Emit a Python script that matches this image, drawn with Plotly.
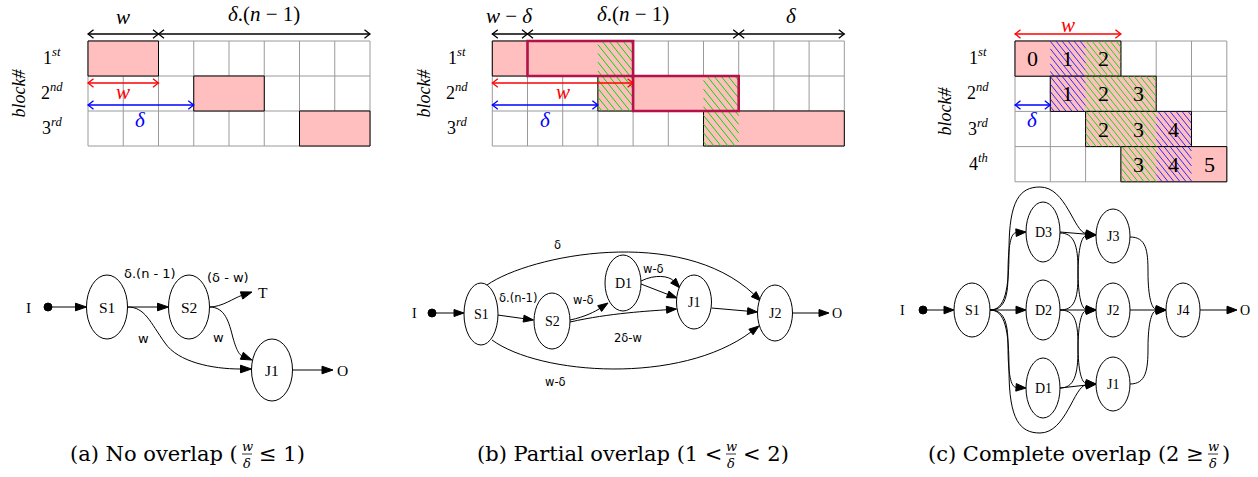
import math
import plotly.graph_objects as go

# ======================= DATA =======================
# ---- timeline grids (block rows, start column, length in cells) ----
a_block_rows, a_block_starts, a_block_lens = [0, 1, 2], [0, 3, 6], [2, 2, 2]
a_top_spans = [(0, 2), (2, 8)]
a_top_labels = ["<i>w</i>", "<i>δ</i>.(<i>n</i> − 1)"]
a_w_span, a_delta_span = (0, 2), (0, 3)

b_block_rows, b_block_starts, b_block_lens = [0, 1, 2], [0, 3, 6], [4, 4, 4]
b_thick_rows, b_thick_starts, b_thick_lens = [0, 1], [1, 4], [3, 3]
b_hatch_cells = [(0, 3), (1, 3), (1, 6), (2, 6)]
b_top_spans = [(0, 1), (1, 7), (7, 10)]
b_top_labels = ["<i>w</i> − <i>δ</i>", "<i>δ</i>.(<i>n</i> − 1)", "<i>δ</i>"]
b_w_span, b_delta_span = (0, 4), (0, 3)

c_block_rows, c_block_starts, c_block_lens = [0, 1, 2, 3], [0, 1, 2, 3], [3, 3, 3, 3]
c_cell_numbers = [["0", "1", "2"], ["1", "2", "3"], ["2", "3", "4"], ["3", "4", "5"]]
c_cell_hatch = [["", "blue", "green"], ["blue", "green", "green"],
                ["green", "green", "blue"], ["green", "blue", ""]]
c_w_span, c_delta_span = (0, 3), (0, 1)

row_labels = ["1<sup><i>st</i></sup>", "2<sup><i>nd</i></sup>",
              "3<sup><i>rd</i></sup>", "4<sup><i>th</i></sup>"]

# ---- graphs ----
a_nodes = {"S1": (107, 307, 20.5, 32), "S2": (189, 307, 20.5, 32), "J1": (272, 370, 20.5, 31)}
a_terms = [("I", 28, 307), ("T", 263, 292), ("O", 342, 370)]
a_dot = (48, 307)
a_edges = [
    [(48, 307), (86.5, 307)],
    [(127.5, 307), (168.5, 307)],
    [(209.5, 307), (222, 307), (234, 298), (252, 292)],
    [(127.5, 307), (145, 307), (150, 322), (165, 343), (178, 362), (212, 369), (251.5, 369)],
    [(209.5, 307), (225, 307), (229, 322), (233, 338), (237, 352), (240, 355), (252, 360)],
    [(292.5, 370), (333, 370)],
]
a_edge_labels = [("δ.(n - 1)", 150, 273), ("(δ - w)", 228, 277), ("w", 143, 338), ("w", 218, 337)]

b_nodes = {"S1": (481, 314, 17, 31), "S2": (552, 321, 18, 28), "D1": (623, 283, 18, 28),
           "J1": (694, 302, 17.5, 27), "J2": (775, 313, 17.5, 28)}
b_terms = [("I", 414, 313), ("O", 837, 313)]
b_dot = (432, 313)
b_edges = [
    [(432, 313), (464, 313)],
    [(497.5, 315), (533.5, 320)],
    [(570, 320), (585, 317), (596, 311), (608, 303)],
    [(570, 322), (610, 313), (650, 311), (676.5, 309)],
    [(641, 281), (655, 274), (669, 276), (680, 288)],
    [(641, 284), (677, 298)],
    [(711.5, 308), (757.5, 312)],
    [(487, 285), (530, 255), (680, 225), (761, 301)],
    [(492, 340), (540, 375), (680, 385), (759, 326)],
    [(792.5, 313), (829, 313)],
]
b_edge_labels = [("δ", 557, 245), ("δ.(n-1)", 518, 298), ("w-δ", 583, 300),
                 ("w-δ", 653, 269), ("2δ-w", 628, 338), ("w-δ", 555, 382)]

c_nodes = {"S1": (972, 310, 18, 27), "D3": (1043, 232, 17, 30), "D2": (1043, 310, 17, 30),
           "D1": (1043, 388, 17, 30), "J3": (1113, 236, 17, 27), "J2": (1113, 310, 17, 27),
           "J1": (1113, 384, 17, 27), "J4": (1183, 310, 17, 27)}
c_terms = [("I", 902, 310), ("O", 1245, 310)]
c_dot = (923, 310)
c_edges = [
    [(923, 310), (954, 310)],
    [(990, 310), (1026, 310)],
    [(990, 310), (1003, 310), (1008, 300), (1008, 275), (1008, 245), (1011, 233), (1026, 232)],
    [(990, 310), (1003, 310), (1008, 320), (1008, 345), (1008, 375), (1011, 387), (1026, 388)],
    [(990, 310), (1005, 310), (1009, 290), (1009, 250), (1009, 200), (1020, 187), (1040, 187),
     (1066, 187), (1074, 232), (1096, 235)],
    [(990, 310), (1005, 310), (1009, 330), (1009, 370), (1009, 420), (1020, 433), (1040, 433),
     (1066, 433), (1074, 386), (1096, 384)],
    [(1060, 232), (1096, 235)],
    [(1060, 233), (1074, 233), (1078, 245), (1078, 270), (1078, 298), (1082, 309), (1096, 310)],
    [(1060, 310), (1074, 310), (1078, 300), (1078, 275), (1078, 247), (1082, 236), (1096, 235)],
    [(1060, 310), (1096, 310)],
    [(1060, 310), (1074, 310), (1078, 320), (1078, 345), (1078, 372), (1082, 383), (1096, 384)],
    [(1060, 388), (1074, 388), (1078, 375), (1078, 350), (1078, 322), (1082, 311), (1096, 310)],
    [(1060, 388), (1096, 384)],
    [(1130, 237), (1146, 237), (1148, 250), (1148, 272), (1148, 298), (1152, 309), (1166, 310)],
    [(1130, 310), (1166, 310)],
    [(1130, 384), (1146, 384), (1148, 370), (1148, 348), (1148, 322), (1152, 311), (1166, 310)],
    [(1200, 310), (1237, 310)],
]

captions = [
    ("(a) No overlap (", "≤ 1)", 247),
    ("(b) Partial overlap (1 <", "< 2)", 731),
    ("(c) Complete overlap (2 ≥", ")", 1213),
]

# ======================= STYLE / LAYOUT =======================
W, H = 1258, 477
grids = {
    "a": dict(left=88, top=41, cw=35.25, ch=35, ncols=8, nrows=3),
    "b": dict(left=492.3, top=41, cw=35.2, ch=35, ncols=10, nrows=3),
    "c": dict(left=1015, top=41, cw=35.3, ch=35.2, ncols=6, nrows=4),
}
PINK = "#ffbfbf"
GRID = "#9a9a9a"
CRIMSON = "#b4124a"
HATCH = {"green": "#00dd00", "blue": "#1a1aff"}
MATH = "Liberation Serif"
SANS = "DejaVu Sans"
CAP = "DejaVu Serif"

shapes, annotations, traces = [], [], []


def cx(g, col):
    return g["left"] + col * g["cw"]


def cy(g, row):
    return g["top"] + row * g["ch"]


def text(t, x, y, size, family=MATH, color="black", xanchor="center", angle=0):
    annotations.append(dict(text=t, x=x, y=y, xref="x", yref="y", showarrow=False,
                            xanchor=xanchor, yanchor="middle", textangle=angle,
                            font=dict(size=size, family=family, color=color)))


def draw_grid(g):
    for i in range(g["ncols"] + 1):
        shapes.append(dict(type="line", x0=cx(g, i), x1=cx(g, i), y0=cy(g, 0), y1=cy(g, g["nrows"]),
                           line=dict(color=GRID, width=1), layer="below"))
    for j in range(g["nrows"] + 1):
        shapes.append(dict(type="line", x0=cx(g, 0), x1=cx(g, g["ncols"]), y0=cy(g, j), y1=cy(g, j),
                           line=dict(color=GRID, width=1), layer="below"))


def draw_blocks(g, rows, starts, lens):
    for r, s, l in zip(rows, starts, lens):
        shapes.append(dict(type="rect", x0=cx(g, s), x1=cx(g, s + l), y0=cy(g, r), y1=cy(g, r + 1),
                           fillcolor=PINK, line=dict(color="black", width=1), layer="below"))


def hatch(g, cells, color, step=6.0, slope=1.25, width=1.0):
    # lines running from upper-left to lower-right, clipped to each cell
    xs, ys = [], []
    for r, c in cells:
        x0, x1, y0, y1 = cx(g, c), cx(g, c + 1), cy(g, r), cy(g, r + 1)
        xt = math.floor((x0 - (y1 - y0) / slope) / step) * step
        while xt <= x1:
            xa, ya = xt, y0
            xb, yb = xt + (y1 - y0) / slope, y1
            if xa < x0:
                ya = y0 + (x0 - xa) * slope
                xa = x0
            if xb > x1:
                yb = y1 - (xb - x1) * slope
                xb = x1
            if yb - ya > 0.5 and xb > xa:
                xs += [xa, xb, None]
                ys += [ya, yb, None]
            xt += step
    traces.append(go.Scatter(x=xs, y=ys, mode="lines", hoverinfo="skip",
                             line=dict(color=color, width=width)))


def dbl_arrow(x0, x1, y, color, width=1.3, ah=5.5, aw=4.2):
    shapes.append(dict(type="line", x0=x0, x1=x1, y0=y, y1=y, line=dict(color=color, width=width),
                       layer="above"))
    for tip, d in ((x0, 1), (x1, -1)):
        p = (f"M {tip + d * ah},{y - aw} Q {tip + d * ah * 0.35},{y - aw * 0.3} {tip},{y} "
             f"Q {tip + d * ah * 0.35},{y + aw * 0.3} {tip + d * ah},{y + aw}")
        shapes.append(dict(type="path", path=p, line=dict(color=color, width=width), layer="above"))


def row_names(g, xlab, xblock, nrows):
    for j in range(nrows):
        text(row_labels[j], xlab, cy(g, j) + g["ch"] / 2 - 2, 18)
    text("<i>block#</i>", xblock, cy(g, 0) + g["ch"] * nrows / 2, 18, angle=-90)


def edge(pts, L=10, hw=3.6, width=1):
    pts = list(pts)
    tip, prev = pts[-1], pts[-2]
    dx, dy = tip[0] - prev[0], tip[1] - prev[1]
    d = math.hypot(dx, dy)
    ux, uy = dx / d, dy / d
    base = (tip[0] - L * ux, tip[1] - L * uy)
    pts[-1] = base
    path = f"M {pts[0][0]},{pts[0][1]}"
    if len(pts) == 2:
        path += f" L {base[0]},{base[1]}"
    else:
        for i in range(1, len(pts), 3):
            a, b, c = pts[i], pts[i + 1], pts[i + 2]
            path += f" C {a[0]},{a[1]} {b[0]},{b[1]} {c[0]},{c[1]}"
    shapes.append(dict(type="path", path=path, line=dict(color="black", width=width), layer="above"))
    px, py = -uy, ux
    tri = (f"M {tip[0]},{tip[1]} L {base[0] + px * hw},{base[1] + py * hw} "
           f"L {base[0] - px * hw},{base[1] - py * hw} Z")
    shapes.append(dict(type="path", path=tri, fillcolor="black", line=dict(color="black", width=1),
                       layer="above"))


def graph(nodes, terms, dot, edges, node_size, L, hw):
    for e in edges:
        edge(e, L=L, hw=hw)
    for name, (x, y, rx, ry) in nodes.items():
        shapes.append(dict(type="circle", x0=x - rx, x1=x + rx, y0=y - ry, y1=y + ry,
                           fillcolor="white", line=dict(color="black", width=1), layer="above"))
        text(name, x, y, node_size)
    for t, x, y in terms:
        text(t, x, y, node_size)
    shapes.append(dict(type="circle", x0=dot[0] - 4, x1=dot[0] + 4, y0=dot[1] - 4, y1=dot[1] + 4,
                       fillcolor="black", line=dict(color="black", width=1), layer="above"))


# ---------------- panel (a) ----------------
ga = grids["a"]
draw_grid(ga)
draw_blocks(ga, a_block_rows, a_block_starts, a_block_lens)
for (s, e), lab in zip(a_top_spans, a_top_labels):
    dbl_arrow(cx(ga, s), cx(ga, e), 34, "black")
    text(lab, (cx(ga, s) + cx(ga, e)) / 2, 14 if e - s > 2 else 17, 21)
dbl_arrow(cx(ga, a_w_span[0]), cx(ga, a_w_span[1]), 83, "red")
text("<i>w</i>", (cx(ga, a_w_span[0]) + cx(ga, a_w_span[1])) / 2, 92, 21, color="red")
dbl_arrow(cx(ga, a_delta_span[0]), cx(ga, a_delta_span[1]), 105, "blue")
text("<i>δ</i>", (cx(ga, a_delta_span[0]) + cx(ga, a_delta_span[1])) / 2, 120, 21, color="blue")
row_names(ga, 52, 18, 3)

# ---------------- panel (b) ----------------
gb = grids["b"]
draw_grid(gb)
draw_blocks(gb, b_block_rows, b_block_starts, b_block_lens)
hatch(gb, b_hatch_cells, HATCH["green"], step=7.0)
for r, s, l in zip(b_thick_rows, b_thick_starts, b_thick_lens):
    shapes.append(dict(type="rect", x0=cx(gb, s), x1=cx(gb, s + l), y0=cy(gb, r), y1=cy(gb, r + 1),
                       line=dict(color=CRIMSON, width=2.6), layer="above"))
for (s, e), lab in zip(b_top_spans, b_top_labels):
    dbl_arrow(cx(gb, s), cx(gb, e), 34, "black")
    text(lab, (cx(gb, s) + cx(gb, e)) / 2, 14 if e - s > 3 else 16, 21)
dbl_arrow(cx(gb, b_w_span[0]), cx(gb, b_w_span[1]), 83, "red")
text("<i>w</i>", (cx(gb, b_w_span[0]) + cx(gb, b_w_span[1])) / 2, 92, 21, color="red")
dbl_arrow(cx(gb, b_delta_span[0]), cx(gb, b_delta_span[1]), 105, "blue")
text("<i>δ</i>", (cx(gb, b_delta_span[0]) + cx(gb, b_delta_span[1])) / 2, 120, 21, color="blue")
row_names(gb, 457, 423, 3)

# ---------------- panel (c) ----------------
gc = grids["c"]
draw_grid(gc)
draw_blocks(gc, c_block_rows, c_block_starts, c_block_lens)
for colname in ("blue", "green"):
    cells = []
    for r, s in zip(c_block_rows, c_block_starts):
        for k, hname in enumerate(c_cell_hatch[r]):
            if hname == colname:
                cells.append((r, s + k))
    hatch(gc, cells, HATCH[colname], step=6.0, width=0.9)
for r, s in zip(c_block_rows, c_block_starts):
    for k, num in enumerate(c_cell_numbers[r]):
        text(num, cx(gc, s + k + 0.5), cy(gc, r + 0.5), 22)
dbl_arrow(cx(gc, c_w_span[0]), cx(gc, c_w_span[1]), 34, "red")
text("<i>w</i>", (cx(gc, c_w_span[0]) + cx(gc, c_w_span[1])) / 2, 25, 21, color="red")
dbl_arrow(cx(gc, c_delta_span[0]), cx(gc, c_delta_span[1]), 105, "blue")
text("<i>δ</i>", (cx(gc, c_delta_span[0]) + cx(gc, c_delta_span[1])) / 2, 120, 21, color="blue")
row_names(gc, 978, 945, 4)

# ---------------- graphs ----------------
graph(a_nodes, a_terms, a_dot, a_edges, 15.5, 11, 3.8)
for t, x, y in a_edge_labels:
    text(t, x, y, 13, family=SANS)
graph(b_nodes, b_terms, b_dot, b_edges, 14, 10, 3.5)
for t, x, y in b_edge_labels:
    text(t, x, y, 11.5, family=SANS)
graph(c_nodes, c_terms, c_dot, c_edges, 14, 10, 3.8)

# ---------------- captions ----------------
for left, right, xf in captions:
    text(left, xf - 7, 454, 21, family=CAP, xanchor="right")
    text(right, xf + (10 if right != ")" else 7), 454, 21, family=CAP, xanchor="left")
    text("<i>w</i>", xf, 446, 13, family=CAP)
    text("<i>δ</i>", xf, 463, 13, family=CAP)
    shapes.append(dict(type="line", x0=xf - 5, x1=xf + 5, y0=454, y1=454,
                       line=dict(color="black", width=0.8), layer="above"))

fig = go.Figure(data=traces)
fig.update_layout(
    width=W, height=H, margin=dict(l=0, r=0, t=0, b=0),
    paper_bgcolor="white", plot_bgcolor="white", showlegend=False,
    xaxis=dict(range=[0, W], visible=False, fixedrange=True),
    yaxis=dict(range=[H, 0], visible=False, fixedrange=True),
    shapes=shapes, annotations=annotations,
)
fig.write_html("out.html", config={"displayModeBar": False, "staticPlot": True})

# remove the browser's default page margin so the figure sits at the window origin
with open("out.html", encoding="utf-8") as f:
    html = f.read()
html = html.replace("<body>", '<body style="margin:0;padding:0;overflow:hidden">', 1)
with open("out.html", "w", encoding="utf-8") as f:
    f.write(html)
